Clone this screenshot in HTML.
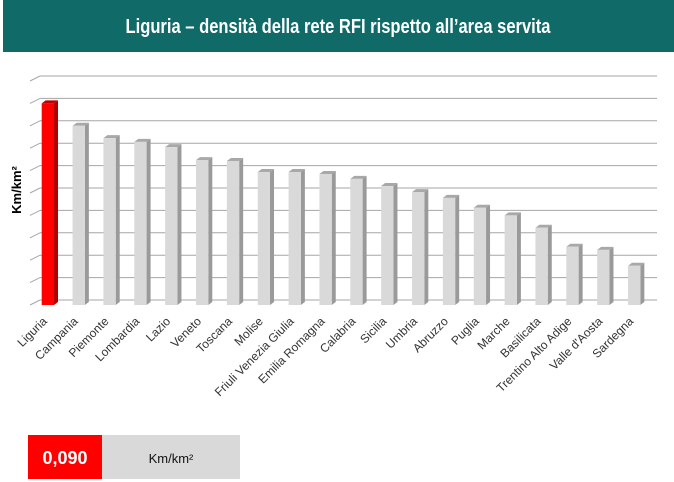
<!DOCTYPE html>
<html><head><meta charset="utf-8"><style>
html,body{margin:0;padding:0;background:#fff;width:674px;height:482px;overflow:hidden;font-family:"Liberation Sans",sans-serif}
</style></head><body>
<svg width="674" height="482" xmlns="http://www.w3.org/2000/svg">
<rect x="3" y="0" width="671" height="52" fill="#0f6a68"/>
<text x="338" y="33" fill="#fff" font-size="20" font-weight="bold" text-anchor="middle" textLength="425" lengthAdjust="spacingAndGlyphs">Liguria – densità della rete RFI rispetto all’area servita</text>
<g id="grid"></g>
<g id="bars"></g>
<g id="labels"></g>
<text transform="translate(21,190) rotate(-90)" text-anchor="middle" font-size="13" font-weight="bold" fill="#000">Km/km²</text>
<rect x="28" y="435" width="74" height="44" fill="#ff0000"/>
<rect x="102" y="435" width="138" height="44" fill="#d9d9d9"/>
<text x="65" y="464" fill="#fff" font-size="18" font-weight="bold" text-anchor="middle">0,090</text>
<text x="171" y="463" fill="#111" font-size="13" text-anchor="middle">Km/km²</text>
</svg>
<script>
const categories=["Liguria","Campania","Piemonte","Lombardia","Lazio","Veneto","Toscana","Molise","Friuli Venezia Giulia","Emilia Romagna","Calabria","Sicilia","Umbria","Abruzzo","Puglia","Marche","Basilicata","Trentino Alto Adige","Valle d'Aosta","Sardegna"];
const values=[0.090,0.080,0.0745,0.0728,0.0705,0.0647,0.0643,0.0594,0.0594,0.0585,0.0563,0.0531,0.0504,0.0478,0.0434,0.0400,0.0345,0.0260,0.0246,0.0175];
const yTicks=[0,0.01,0.02,0.03,0.04,0.05,0.06,0.07,0.08,0.09,0.10];
const NS="http://www.w3.org/2000/svg";
const base=305, unit=2240;
function y(v){return base-v*unit;}
function x(i){return 41.7+i*30.86;}
function mk(tag,attrs,parent){const e=document.createElementNS(NS,tag);for(const k in attrs)e.setAttribute(k,attrs[k]);parent.appendChild(e);return e;}
const grid=document.getElementById('grid');
yTicks.forEach(t=>{
  const g=mk('g',{},grid);
  
  
  mk('line',{x1:40,x2:657,y1:y(t)-5,y2:y(t)-5,stroke:'#a6a6a6','stroke-width':1},g);
  mk('line',{x1:30,x2:40,y1:y(t),y2:y(t)-5,stroke:'#a6a6a6','stroke-width':1},g);
});
const bars=document.getElementById('bars');
values.forEach((v,i)=>{
  const g=mk('g',{},bars);
  
  
  const red=i===0;
  const x0=x(i),w=12.3,d=4,dy=3,t=y(v);
  mk('polygon',{points:`${x0+w},${t} ${x0+w+d},${t-dy} ${x0+w+d},${base-dy} ${x0+w},${base}`,fill:red?'#b00000':'#9a9a9a'},g);
  mk('polygon',{points:`${x0},${t} ${x0+d},${t-dy} ${x0+w+d},${t-dy} ${x0+w},${t}`,fill:red?'#c00000':'#a8a8a8'},g);
  mk('rect',{x:x0,y:t,width:w,height:base-t,fill:red?'#ff0000':'#d9d9d9'},g);
});
const labels=document.getElementById('labels');
categories.forEach((c,i)=>{
  const cx=x(i)+6;
  const tx=mk('text',{transform:`translate(${cx},322) rotate(-45)`,'text-anchor':'end','font-size':12,fill:'#333'},labels);
  
  
  tx.textContent=c;
});
</script>
</body></html>
